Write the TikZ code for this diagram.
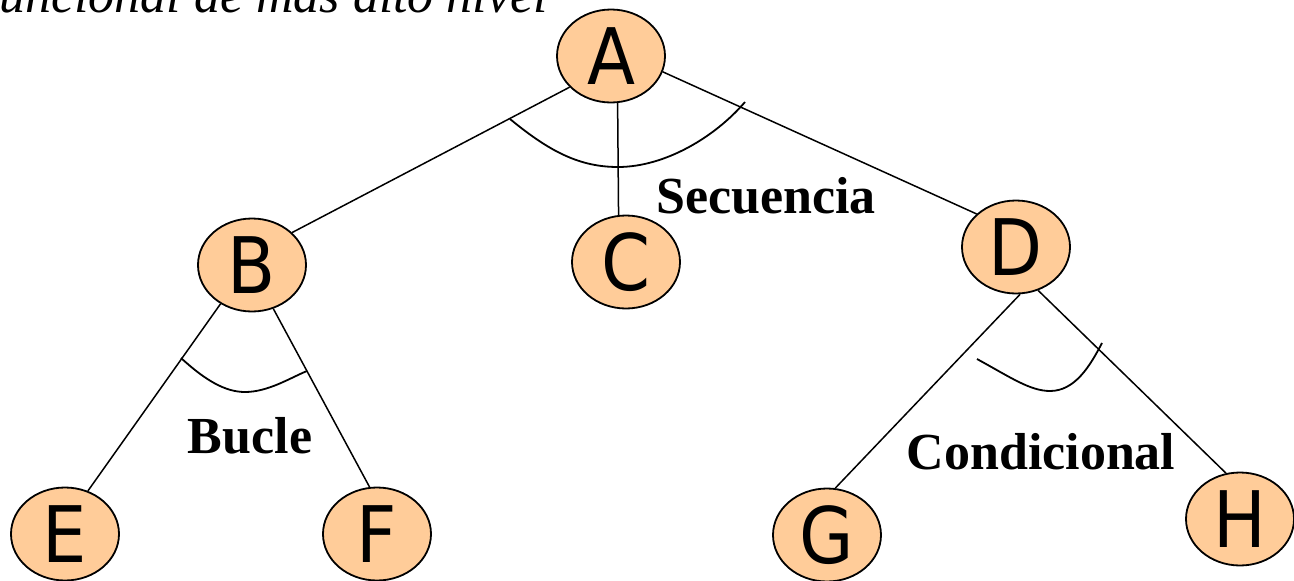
\documentclass[tikz,border=0pt]{standalone}
\usepackage{fontspec}
\setmainfont{Liberation Serif}
\newfontfamily\nodefont{DejaVu Sans Condensed}
\usetikzlibrary{shapes.geometric}
\definecolor{peach}{HTML}{FFCC99}
\tikzset{
  tnode/.style={ellipse, draw=black, fill=peach, line width=1.8pt,
    minimum width=108pt, minimum height=93pt, inner sep=0pt,
    font=\nodefont\fontsize{78}{78}\selectfont},
  link/.style={line width=1.5pt},
  joinarc/.style={line width=1.8pt},
  lbl/.style={font=\bfseries\fontsize{52}{52}\selectfont, inner sep=0pt},
}
\begin{document}
\begin{tikzpicture}[x=1pt, y=-1pt]
\useasboundingbox (0,0) rectangle (1294,581);

% heading, partly cut by the top edge
\node[anchor=base west, inner sep=0pt, font=\itshape\fontsize{52}{52}\selectfont]
  (title) at (-1,12) {uncional de más alto nivel};

% tree nodes
\node[tnode] (A) at (611,56)  {A};
\node[tnode] (B) at (252,265) {B};
\node[tnode] (C) at (626,262) {C};
\node[tnode] (D) at (1016,247) {D};
\node[tnode] (E) at (65,534)  {E};
\node[tnode] (F) at (377,534) {F};
\node[tnode] (G) at (827,535) {G};
\node[tnode] (H) at (1240,519) {H};

% edges
\draw[link] (A.217) -- (B.39);
\draw[link] (A.278) -- (C.99);
\draw[link] (A.343) -- (D.140);
\draw[link] (B.231) -- (E.62);
\draw[link] (B.296) -- (F.99);
\draw[link] (D.275) -- (G.80);
\draw[link] (D.297) -- (H.107);

% arcs joining the sibling edges
\coordinate (s1) at (510,119);
\coordinate (s2) at (618,167);
\coordinate (s3) at (745,102);
\draw[joinarc] (s1) .. controls (550,152) and (580,167) .. (s2)
                    .. controls (665,167) and (715,137) .. (s3);
\coordinate (b1) at (181,358);
\coordinate (b2) at (245,392);
\coordinate (b3) at (307,371);
\draw[joinarc] (b1) .. controls (205,380) and (225,392) .. (b2)
                    .. controls (268,392) and (290,378) .. (b3);
\coordinate (c1) at (977,359);
\coordinate (c2) at (1050,391);
\coordinate (c3) at (1102,343);
\draw[joinarc] (c1) .. controls (1010,377) and (1030,391) .. (c2)
                    .. controls (1075,391) and (1090,366) .. (c3);

% construct labels
\node[lbl] (lsec) at (766,196) {Secuencia};
\node[lbl] (lbuc) at (250,436) {Bucle};
\node[lbl] (lcon) at (1041,452) {Condicional};
\end{tikzpicture}
\end{document}
